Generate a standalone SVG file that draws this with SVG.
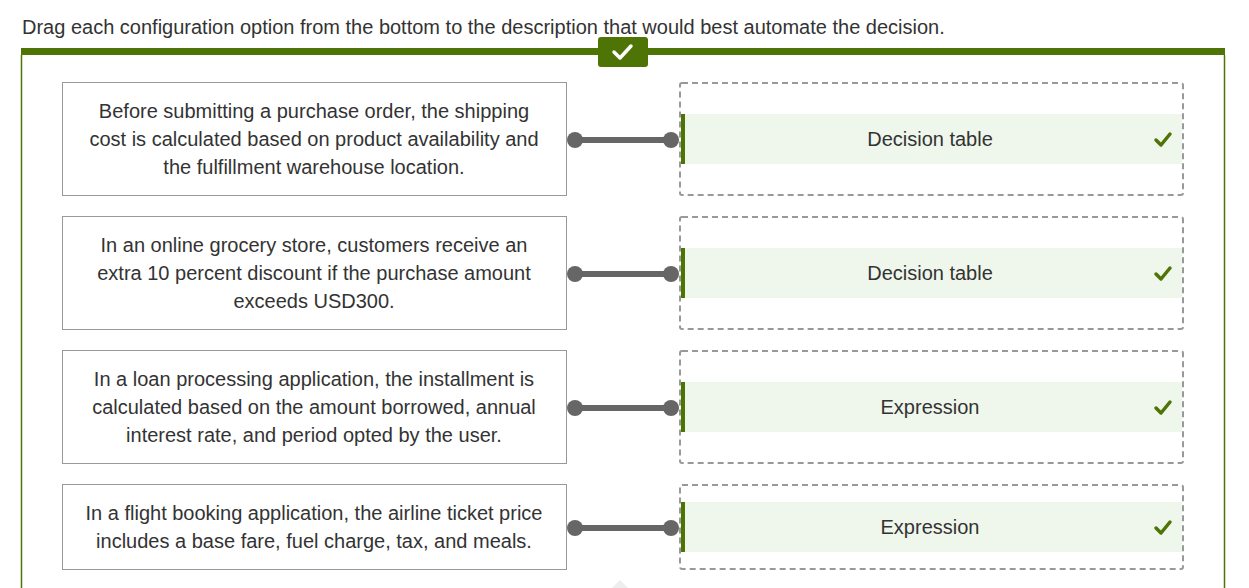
<svg xmlns="http://www.w3.org/2000/svg" width="1249" height="588" viewBox="0 0 1249 588">
<style>
text{font-family:"Liberation Sans",Arial,sans-serif;font-size:20px;fill:#333}
.q{text-anchor:middle}
.lbox{fill:#fff;stroke:#999;stroke-width:1}
.drop{fill:#fff;stroke:#999;stroke-width:2;stroke-dasharray:6 4}
.ans{fill:#eff6ec}
.abar{fill:#4e7406}
.conn{stroke:#666;stroke-width:6;fill:none}
.dot{fill:#666}
.tick{fill:none;stroke:#4e7406;stroke-width:3.5;stroke-linecap:round;stroke-linejoin:round}
</style>
<rect width="1249" height="588" fill="#fff"/>
<text x="22" y="34">Drag each configuration option from the bottom to the description that would best automate the decision.</text>
<g id="frame">
<path d="M21.5 55 V588 M1224.5 55 V588" stroke="#4e7406" stroke-width="1.5" fill="none"/>
<rect x="21" y="48" width="1204" height="7" fill="#4e7406"/>
<rect x="598" y="37" width="50" height="30" rx="3" fill="#4e7406"/>
<path d="M614 52 L620 58 L631 46" fill="none" stroke="#fff" stroke-width="3.5" stroke-linecap="round" stroke-linejoin="round"/>
</g>
<g id="connectors">
<line class="conn" x1="575" y1="140" x2="671" y2="140"/><circle class="dot" cx="575" cy="140" r="8"/><circle class="dot" cx="671" cy="140" r="8"/>
<line class="conn" x1="575" y1="274" x2="671" y2="274"/><circle class="dot" cx="575" cy="274" r="8"/><circle class="dot" cx="671" cy="274" r="8"/>
<line class="conn" x1="575" y1="408" x2="671" y2="408"/><circle class="dot" cx="575" cy="408" r="8"/><circle class="dot" cx="671" cy="408" r="8"/>
<line class="conn" x1="575" y1="528" x2="671" y2="528"/><circle class="dot" cx="575" cy="528" r="8"/><circle class="dot" cx="671" cy="528" r="8"/>
</g>
<g id="q1">
<rect class="lbox" x="62.5" y="82.5" width="504" height="113"/>
<text class="q" x="314" y="118">Before submitting a purchase order, the shipping</text>
<text class="q" x="314" y="146">cost is calculated based on product availability and</text>
<text class="q" x="314" y="174">the fulfillment warehouse location.</text>
</g>
<g id="q2">
<rect class="lbox" x="62.5" y="216.5" width="504" height="113"/>
<text class="q" x="314" y="252">In an online grocery store, customers receive an</text>
<text class="q" x="314" y="280">extra 10 percent discount if the purchase amount</text>
<text class="q" x="314" y="308">exceeds USD300.</text>
</g>
<g id="q3">
<rect class="lbox" x="62.5" y="350.5" width="504" height="113"/>
<text class="q" x="314" y="386">In a loan processing application, the installment is</text>
<text class="q" x="314" y="414">calculated based on the amount borrowed, annual</text>
<text class="q" x="314" y="442">interest rate, and period opted by the user.</text>
</g>
<g id="q4">
<rect class="lbox" x="62.5" y="484.5" width="504" height="85"/>
<text class="q" x="314" y="520">In a flight booking application, the airline ticket price</text>
<text class="q" x="314" y="548">includes a base fare, fuel charge, tax, and meals.</text>
</g>
<g id="a1">
<rect class="drop" x="680" y="83" width="503" height="112" rx="2"/>
<rect class="ans" x="681" y="114" width="501" height="50"/>
<rect class="abar" x="681" y="114" width="4" height="50"/>
<text class="q" x="930" y="146">Decision table</text>
<path class="tick" d="M1156 140 L1161 145 L1170 134"/>
</g>
<g id="a2">
<rect class="drop" x="680" y="217" width="503" height="112" rx="2"/>
<rect class="ans" x="681" y="248" width="501" height="50"/>
<rect class="abar" x="681" y="248" width="4" height="50"/>
<text class="q" x="930" y="280">Decision table</text>
<path class="tick" d="M1156 274 L1161 279 L1170 268"/>
</g>
<g id="a3">
<rect class="drop" x="680" y="351" width="503" height="112" rx="2"/>
<rect class="ans" x="681" y="382" width="501" height="50"/>
<rect class="abar" x="681" y="382" width="4" height="50"/>
<text class="q" x="930" y="414">Expression</text>
<path class="tick" d="M1156 408 L1161 413 L1170 402"/>
</g>
<g id="a4">
<rect class="drop" x="680" y="485" width="503" height="84" rx="2"/>
<rect class="ans" x="681" y="502" width="501" height="50"/>
<rect class="abar" x="681" y="502" width="4" height="50"/>
<text class="q" x="930" y="534">Expression</text>
<path class="tick" d="M1156 528 L1161 533 L1170 522"/>
</g>
<polygon points="612,588 620,580 628,588" fill="#eeeeee"/>
</svg>
